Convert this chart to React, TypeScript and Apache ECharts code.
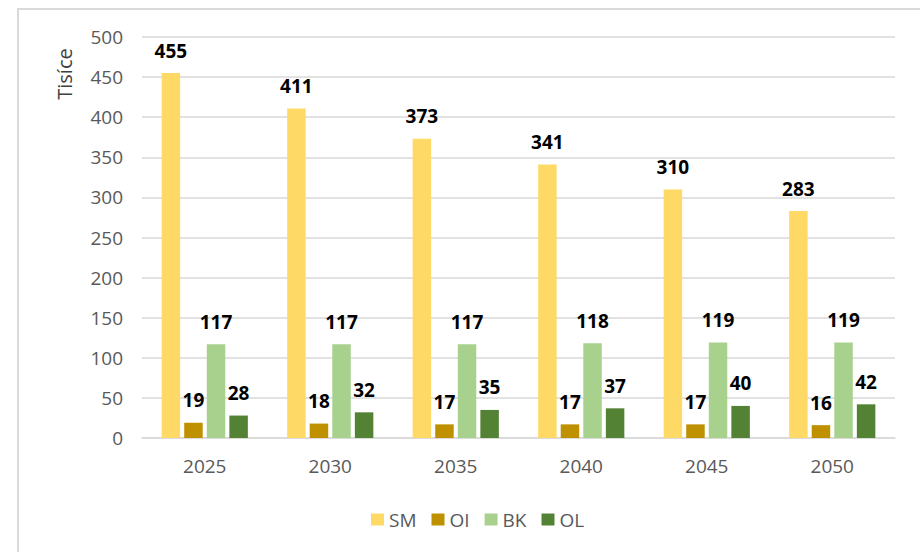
import React, { useEffect, useRef } from "react";
import * as echarts from "echarts";

const categories = ["2025", "2030", "2035", "2040", "2045", "2050"];
const seriesNames = ["SM", "OI", "BK", "OL"];
const smValues = [455, 411, 373, 341, 310, 283];
const oiValues = [19, 18, 17, 17, 17, 16];
const bkValues = [117, 117, 117, 118, 119, 119];
const olValues = [28, 32, 35, 37, 40, 42];
const colors = ["#FFD966", "#BF9000", "#A9D18E", "#548235"];
const yAxisTitle = "Tisíce";

const FONT = "'Open Sans', 'Noto Sans', sans-serif";

export default function App() {
  const ref = useRef<HTMLDivElement>(null);
  useEffect(() => {
    if (!ref.current) return;
    const chart = echarts.init(ref.current, null, { renderer: "svg" });
    const values = [smValues, oiValues, bkValues, olValues];
    chart.setOption({
      animation: false,
      backgroundColor: "#ffffff",
      textStyle: { fontFamily: FONT },
      grid: { left: 142, right: 25, top: 37, bottom: 114, containLabel: false },
      legend: {
        data: seriesNames,
        left: 366,
        top: 505,
        itemWidth: 13,
        itemHeight: 12,
        itemGap: 15,
        icon: "rect",
        textStyle: { fontFamily: FONT, fontSize: 19, color: "#595959", padding: [0, 0, 0, 0] },
      },
      xAxis: {
        type: "category",
        data: categories,
        axisLine: { show: true, lineStyle: { color: "#d9d9d9", width: 1.5 } },
        axisTick: { show: false },
        axisLabel: { fontFamily: FONT, fontSize: 19, color: "#595959", margin: 18 },
      },
      yAxis: {
        type: "value",
        min: 0,
        max: 500,
        interval: 50,
        axisLine: { show: false },
        axisTick: { show: false },
        splitLine: { lineStyle: { color: "#d9d9d9", width: 1.5 } },
        axisLabel: { fontFamily: FONT, fontSize: 19, color: "#595959", margin: 19 },
      },
      graphic: [
        {
          type: "polyline",
          shape: { points: [[18, 552], [18, 9], [920, 9]] },
          style: { stroke: "#d9d9d9", lineWidth: 2, fill: "none" },
        },
        {
          type: "text",
          x: 64,
          y: 74,
          rotation: Math.PI / 2,
          style: {
            text: yAxisTitle,
            fontFamily: FONT,
            fontSize: 20,
            fill: "#404040",
            align: "center",
            verticalAlign: "middle",
          },
        },
      ],
      series: seriesNames.map((name, i) => ({
        name,
        type: "bar",
        data: values[i],
        barWidth: 18.5,
        barGap: "22%",
        itemStyle: { color: colors[i] },
        label: {
          show: true,
          position: "top",
          distance: 13,
          fontFamily: FONT,
          fontSize: 19,
          fontWeight: "bold",
          color: "#000000",
        },
      })),
    });
    return () => chart.dispose();
  }, []);
  return (
    <div
      ref={ref}
      style={{ position: "fixed", left: 0, top: 0, width: 920, height: 552 }}
    />
  );
}
